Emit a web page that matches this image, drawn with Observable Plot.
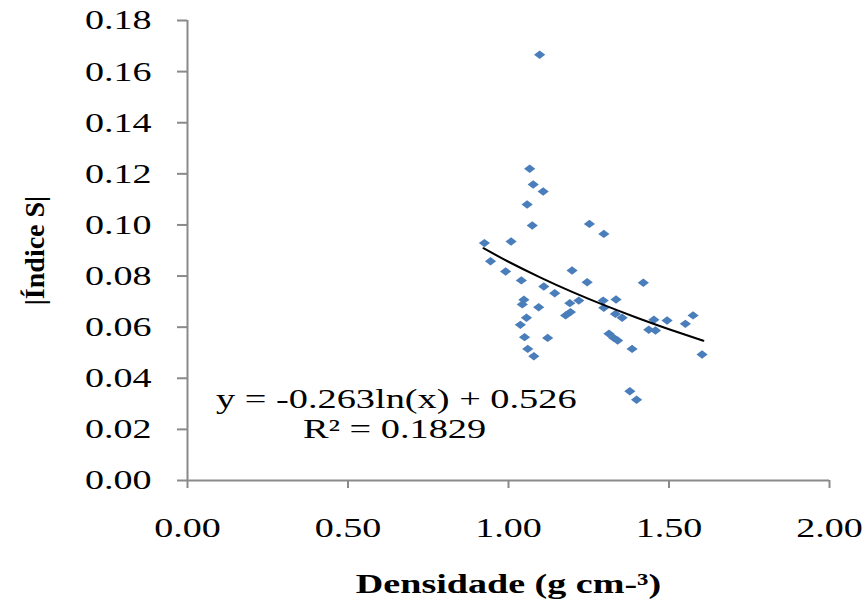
<!DOCTYPE html>
<html>
<head>
<meta charset="utf-8">
<script src="https://cdn.jsdelivr.net/npm/d3@7"></script>
<script src="https://cdn.jsdelivr.net/npm/@observablehq/plot@0.6"></script>
<style>
  html, body { margin: 0; padding: 0; background: #fff; }
  #chart { width: 867px; height: 608px; }
</style>
</head>
<body>
<div id="chart"></div>
<script>
// Densidade (g cm-3)
const densidade = [
  0.925, 1.008, 0.944, 0.991, 1.040, 1.048, 1.043, 1.056, 1.037, 1.050,
  1.060, 1.079, 1.058, 1.066, 1.077, 1.108, 1.074, 1.097, 1.094, 1.110,
  1.122, 1.144, 1.178, 1.193, 1.191, 1.198, 1.219, 1.245, 1.252, 1.297,
  1.295, 1.297, 1.335, 1.333, 1.354, 1.313, 1.328, 1.340, 1.385, 1.378,
  1.399, 1.420, 1.437, 1.458, 1.453, 1.494, 1.551, 1.575, 1.603
];
// |Índice S|
const indiceS = [
  0.0929, 0.0935, 0.0858, 0.0818, 0.0783, 0.0707, 0.0689, 0.0637, 0.0609, 0.0561,
  0.0515, 0.0486, 0.1080, 0.1220, 0.1158, 0.1131, 0.0998, 0.1666, 0.0678, 0.0759,
  0.0558, 0.0733, 0.0646, 0.0659, 0.0694, 0.0822, 0.0704, 0.0776, 0.1004, 0.0965,
  0.0704, 0.0676, 0.0708, 0.0652, 0.0637, 0.0574, 0.0558, 0.0548, 0.0515, 0.0349,
  0.0316, 0.0774, 0.0590, 0.0587, 0.0629, 0.0626, 0.0613, 0.0646, 0.0493
];
// logarithmic trend line
const trendX = [0.922, 1.0, 1.1, 1.2, 1.3, 1.4, 1.5, 1.607];
const trendY = [0.0909, 0.0856, 0.0794, 0.0737, 0.0685, 0.0637, 0.0592, 0.0547];

const xTicks = [0, 0.5, 1.0, 1.5, 2.0];
const yTicks = [0, 0.02, 0.04, 0.06, 0.08, 0.10, 0.12, 0.14, 0.16, 0.18];
const equationLines = ["y = -0.263ln(x) + 0.526", "R\u00b2 = 0.1829"];
const xLabel = "Densidade (g cm-\u00b3)";
const yLabel = "|\u00cdndice S|";

const points = densidade.map((d, i) => ({x: d, y: indiceS[i]}));
const trend = trendX.map((d, i) => ({x: d, y: trendY[i]}));

const wideDiamond = {
  draw(ctx) {
    const w = 5.6, h = 4.2;
    ctx.moveTo(-w, 0);
    ctx.lineTo(0, -h);
    ctx.lineTo(w, 0);
    ctx.lineTo(0, h);
    ctx.closePath();
  }
};

const fmt = d3.format(".2f");
const serif = "'Liberation Serif', 'Times New Roman', serif";

const chart = Plot.plot({
  width: 867,
  height: 608,
  marginTop: 20,
  marginLeft: 187,
  marginRight: 38,
  marginBottom: 128,
  style: {fontFamily: serif, fontSize: "28px", color: "#000", background: "#fff"},
  x: {domain: [0, 2], ticks: xTicks, tickFormat: fmt, tickSize: 8, tickPadding: 29, label: null},
  y: {domain: [0, 0.18], ticks: yTicks, tickFormat: fmt, tickSize: 10, tickPadding: 26, label: null},
  marks: [
    Plot.ruleX([0], {stroke: "#8a8a8a", strokeWidth: 2}),
    Plot.ruleY([0], {stroke: "#8a8a8a", strokeWidth: 2}),
    Plot.dot(points, {x: "x", y: "y", symbol: wideDiamond, fill: "#4a7ebb", stroke: "none"}),
    Plot.line(trend, {x: "x", y: "y", curve: "natural", stroke: "#000", strokeWidth: 2}),
    Plot.text([equationLines[0]], {x: 0.6505, y: 0.0282, text: d => d, fontSize: 27, textAnchor: "middle", lineAnchor: "bottom", fill: "#000", className: "eq"}),
    Plot.text([equationLines[1]], {x: 0.645, y: 0.0168, text: d => d, fontSize: 27, textAnchor: "middle", lineAnchor: "bottom", fill: "#000", className: "eq"}),
    Plot.text([xLabel], {frameAnchor: "bottom", dy: 104, text: d => d, fontSize: 28, fontWeight: "bold", lineAnchor: "middle", fill: "#000"}),
    Plot.text([yLabel], {frameAnchor: "left", dx: -152, rotate: -90, text: d => d, fontSize: 28, fontWeight: "bold", textAnchor: "middle", lineAnchor: "middle", fill: "#000"})
  ]
});

document.getElementById("chart").appendChild(chart);

// axis tick lines gray
chart.querySelectorAll("g[aria-label$='tick'] path, g[aria-label$='tick'] line").forEach(el => {
  el.setAttribute("stroke", "#8a8a8a");
  el.setAttribute("stroke-width", "2");
});
chart.querySelectorAll("g[aria-label*='axis'] path").forEach(el => {
  el.setAttribute("stroke", "#8a8a8a");
});

// the reference renders horizontal text wide: stretch glyphs horizontally
chart.querySelectorAll("text").forEach(t => {
  const tr = t.getAttribute("transform") || "";
  if (tr.includes("rotate")) return;
  const isEq = !!t.closest(".eq");
  const stretch = isEq ? 1.42 : 1.36;
  const len = t.getComputedTextLength();
  if (len > 0) {
    t.setAttribute("textLength", (len * stretch).toFixed(1));
    t.setAttribute("lengthAdjust", "spacingAndGlyphs");
  }
});
</script>
</body>
</html>
